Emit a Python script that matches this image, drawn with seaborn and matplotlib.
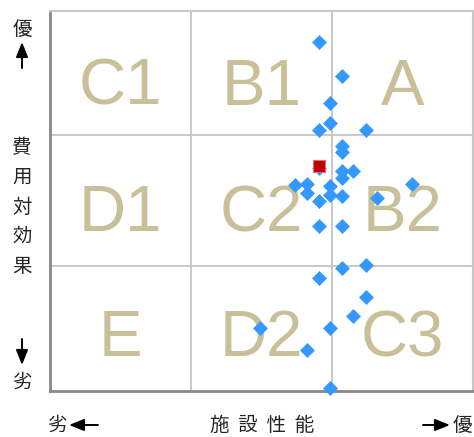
import matplotlib
matplotlib.use('Agg')
import matplotlib.pyplot as plt
import seaborn as sns
import pandas as pd

# 施設の評価点 (横: 施設性能 0-100, 縦: 費用対効果 0-100)
perf = [63.5, 69.0, 66.2, 66.2, 63.5, 74.6, 69.0, 69.0, 63.5, 69.0, 71.7,
        69.0, 57.9, 60.7, 66.2, 85.5, 60.7, 66.2, 69.0, 77.2, 63.5, 63.5,
        69.0, 69.0, 74.6, 63.5, 74.6, 71.7, 66.2, 49.6, 60.7, 66.2]
cost = [91.9, 83.0, 75.9, 70.6, 68.6, 68.6, 64.5, 62.9, 58.6, 57.8, 57.8,
        56.1, 54.1, 54.5, 53.9, 54.4, 52.1, 51.6, 51.3, 50.7, 50.1, 43.3,
        43.4, 32.4, 33.2, 29.7, 24.8, 19.8, 16.7, 16.5, 10.8, 0.7]
# 対象施設
target_perf = [63.6]
target_cost = [59.1]

# 区分
grid_x = [100 / 3, 200 / 3]
grid_y = [32.9, 67.45]
zone_labels = [['C1', 'B1', 'A'], ['D1', 'C2', 'B2'], ['E', 'D2', 'C3']]
zone_x = [100 / 6, 50, 500 / 6]
zone_y = [75.3, 42.1, 9.2]

sns.set_style('white')
plt.rcParams['font.family'] = ['Noto Sans CJK JP', 'DejaVu Sans']

fig = plt.figure(figsize=(4.74, 4.37), dpi=100)
ax = fig.add_axes([50 / 474, 46 / 437, 423 / 474, 380 / 437])

df = pd.DataFrame({'perf': perf, 'cost': cost})
df_t = pd.DataFrame({'perf': target_perf, 'cost': target_cost})

for gx in grid_x:
    ax.axvline(gx, color='#c4c4c4', lw=1.3, zorder=1)
for gy in grid_y:
    ax.axhline(gy, color='#c4c4c4', lw=1.3, zorder=1)

for row, ty in zip(zone_labels, zone_y):
    for lab, tx in zip(row, zone_x):
        ax.text(tx, ty, lab, ha='center', va='baseline', fontsize=47,
                color='#c9bf98', family='Liberation Sans', zorder=2)

sns.scatterplot(data=df, x='perf', y='cost', marker='D', s=58, color='#3399ff',
                linewidth=0, ax=ax, zorder=3, clip_on=False)
sns.scatterplot(data=df_t, x='perf', y='cost', marker='s', s=70, color='#c00000',
                edgecolor='#e07070', linewidth=0.8, ax=ax, zorder=4, clip_on=False)

ax.set_xlim(0, 100)
ax.set_ylim(0, 100)
ax.set_xticks([])
ax.set_yticks([])
ax.set_xlabel('')
ax.set_ylabel('')
for side in ['left', 'bottom']:
    ax.spines[side].set_color('#888888')
    ax.spines[side].set_linewidth(2)
for side in ['top', 'right']:
    ax.spines[side].set_color('#c8c8c8')
    ax.spines[side].set_linewidth(1.5)

# 軸ラベル
fs = 14
fig.text(22 / 474, 1 - 29 / 437, '優', ha='center', va='center', fontsize=fs)
fig.text(22 / 474, 1 - 382 / 437, '劣', ha='center', va='center', fontsize=fs)
fig.text(22 / 474, 1 - 207 / 437, '\n'.join('費用対効果'), ha='center', va='center',
         fontsize=fs, linespacing=1.55)
fig.text(57 / 474, 12 / 437, '劣', ha='center', va='center', fontsize=fs)
fig.text(262 / 474, 12 / 437, '施  設  性  能', ha='center', va='center', fontsize=fs)
fig.text(462 / 474, 12 / 437, '優', ha='center', va='center', fontsize=fs)

arrow = dict(arrowstyle='-|>,head_length=0.45,head_width=0.18', color='black',
             lw=1.4, mutation_scale=20, shrinkA=0, shrinkB=0)
ax.annotate('', xy=(22, 395), xytext=(22, 369), xycoords='figure pixels',
            textcoords='figure pixels', arrowprops=arrow)
ax.annotate('', xy=(22, 72), xytext=(22, 98), xycoords='figure pixels',
            textcoords='figure pixels', arrowprops=arrow)
ax.annotate('', xy=(69, 12), xytext=(98, 12), xycoords='figure pixels',
            textcoords='figure pixels', arrowprops=arrow)
ax.annotate('', xy=(450, 12), xytext=(423, 12), xycoords='figure pixels',
            textcoords='figure pixels', arrowprops=arrow)

fig.savefig('out.png', dpi=100)
plt.close(fig)
